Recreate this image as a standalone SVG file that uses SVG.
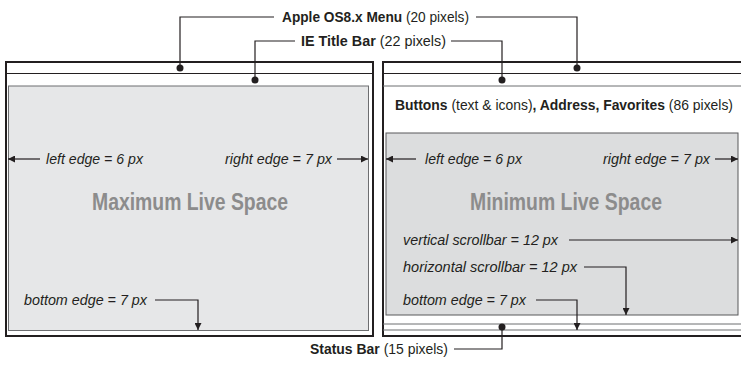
<svg xmlns="http://www.w3.org/2000/svg" width="741" height="365" viewBox="0 0 741 365">
<style>
text{font-family:"Liberation Sans",Arial,sans-serif;fill:#231f20;font-size:15px}
.b{font-weight:bold}
.i{font-style:italic}
.big{font-weight:bold;font-size:23px;fill:#8c8c8c}
.frame{fill:#fff;stroke:#231f20;stroke-width:2}
.thin{stroke:#231f20;stroke-width:1;fill:none}
.gline{stroke:#6d6e70;stroke-width:1;fill:none}
.con{stroke:#231f20;stroke-width:1.2;fill:none}
.dot{fill:#231f20}
</style>
<defs>
<marker id="ah" viewBox="0 0 10 10" refX="10" refY="5" markerWidth="8" markerHeight="7" markerUnits="userSpaceOnUse" orient="auto">
<path d="M0,0 L10,5 L0,10 z" fill="#231f20"/>
</marker>
</defs>
<rect width="741" height="365" fill="#fff"/>

<g id="window-max">
<rect class="frame" x="6" y="62" width="367" height="274"/>
<line class="thin" x1="6" y1="73.5" x2="373" y2="73.5"/>
<rect x="8.5" y="86" width="360" height="244.5" fill="#e6e7e8" stroke="#6d6e70" stroke-width="1"/>
<text class="big" x="92" y="210" textLength="196" lengthAdjust="spacingAndGlyphs">Maximum Live Space</text>
</g>

<g id="window-min">
<path class="frame" d="M741,62 H383 V336 H741"/>
<line class="thin" x1="383" y1="73.5" x2="741" y2="73.5"/>
<line class="gline" x1="383" y1="86" x2="741" y2="86"/>
<rect x="386" y="133" width="352" height="182" fill="#dcddde" stroke="#58595b" stroke-width="1"/>
<line class="gline" x1="383" y1="324" x2="741" y2="324"/>
<line class="gline" x1="383" y1="330" x2="741" y2="330"/>
<text x="395" y="110" textLength="338" lengthAdjust="spacingAndGlyphs"><tspan class="b">Buttons</tspan> (text &amp; icons)<tspan class="b">, Address, Favorites</tspan> (86 pixels)</text>
<text class="big" x="470" y="210" textLength="192" lengthAdjust="spacingAndGlyphs">Minimum Live Space</text>
</g>

<g id="label-menu">
<text x="282" y="22" textLength="187" lengthAdjust="spacingAndGlyphs"><tspan class="b">Apple OS8.x Menu</tspan> (20 pixels)</text>
</g>
<g id="label-title">
<text x="301" y="46" textLength="145" lengthAdjust="spacingAndGlyphs"><tspan class="b">IE Title Bar</tspan> (22 pixels)</text>
</g>
<g id="label-status">
<text x="310" y="354" textLength="138" lengthAdjust="spacingAndGlyphs"><tspan class="b">Status Bar</tspan> (15 pixels)</text>
</g>

<g id="labels-edges">
<text class="i" x="46" y="164" textLength="97" lengthAdjust="spacingAndGlyphs">left edge = 6 px</text>
<text class="i" x="225" y="164" textLength="107" lengthAdjust="spacingAndGlyphs">right edge = 7 px</text>
<text class="i" x="24" y="305" textLength="123" lengthAdjust="spacingAndGlyphs">bottom edge = 7 px</text>
<text class="i" x="425" y="164" textLength="97" lengthAdjust="spacingAndGlyphs">left edge = 6 px</text>
<text class="i" x="603" y="164" textLength="107" lengthAdjust="spacingAndGlyphs">right edge = 7 px</text>
<text class="i" x="403" y="245" textLength="155" lengthAdjust="spacingAndGlyphs">vertical scrollbar = 12 px</text>
<text class="i" x="403" y="272" textLength="174" lengthAdjust="spacingAndGlyphs">horizontal scrollbar = 12 px</text>
<text class="i" x="403" y="305" textLength="123" lengthAdjust="spacingAndGlyphs">bottom edge = 7 px</text>
</g>

<g id="connectors">
<polyline class="con" points="274,17 180,17 180,68"/>
<polyline class="con" points="476,17 577,17 577,68"/>
<polyline class="con" points="295,41 255,41 255,80"/>
<polyline class="con" points="451,41 502,41 502,80"/>
<polyline class="con" points="454,349 502,349 502,327"/>
<circle class="dot" cx="180" cy="68" r="3.5"/>
<circle class="dot" cx="577" cy="68" r="3.5"/>
<circle class="dot" cx="255" cy="80" r="3.5"/>
<circle class="dot" cx="502" cy="80" r="3.5"/>
<circle class="dot" cx="502" cy="327" r="3.5"/>
<line class="con" x1="40" y1="159" x2="8" y2="159" marker-end="url(#ah)"/>
<line class="con" x1="337" y1="159" x2="368" y2="159" marker-end="url(#ah)"/>
<polyline class="con" points="155,300 198,300 198,330" marker-end="url(#ah)"/>
<line class="con" x1="416" y1="159" x2="386" y2="159" marker-end="url(#ah)"/>
<line class="con" x1="715" y1="159" x2="738" y2="159" marker-end="url(#ah)"/>
<line class="con" x1="569" y1="240" x2="738" y2="240" marker-end="url(#ah)"/>
<polyline class="con" points="584,267 626,267 626,315" marker-end="url(#ah)"/>
<polyline class="con" points="536,300 577,300 577,330" marker-end="url(#ah)"/>
</g>
</svg>
